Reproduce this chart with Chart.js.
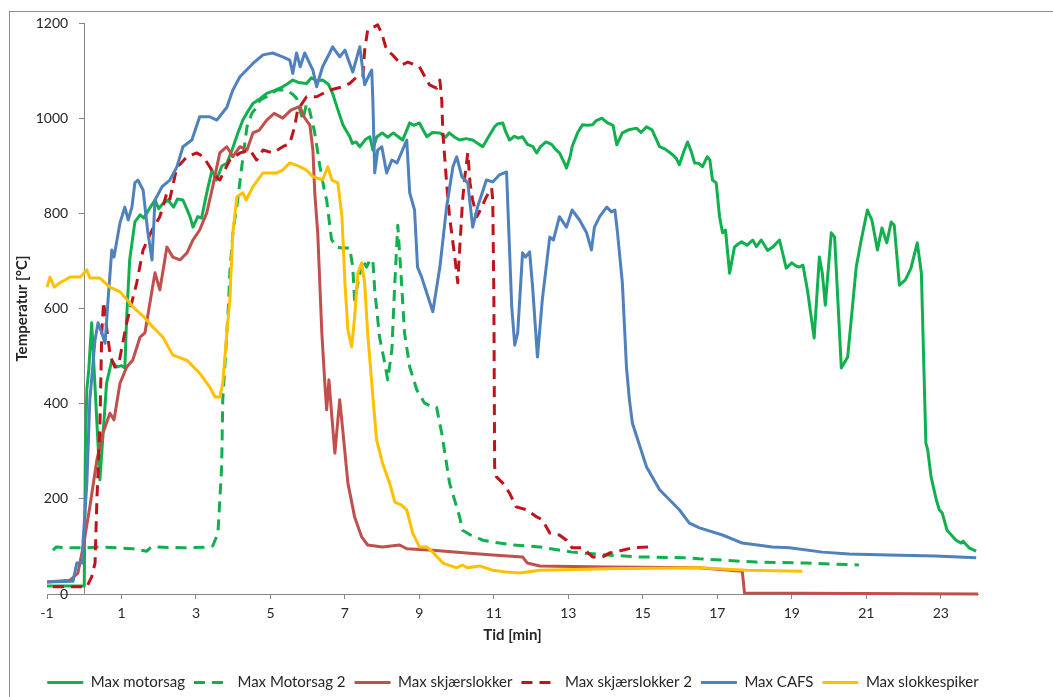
<!DOCTYPE html>
<html>
<head>
<meta charset="utf-8">
<script src="https://cdn.jsdelivr.net/npm/chart.js@4.4.1/dist/chart.umd.min.js"></script>
<style>
  html, body { margin: 0; padding: 0; background: #fff; overflow: hidden; }
  #wrap { position: relative; width: 1053px; height: 700px; }
  #frame { position: absolute; left: 9px; top: 11px; width: 1100px; height: 800px; border: 1px solid #8c8c8c; }
  canvas { position: absolute; left: 0; top: 0; }
</style>
</head>
<body>
<div id="wrap">
  <div id="frame"></div>
  <canvas id="chart" width="1053" height="700"></canvas>
</div>
<script>
// axis ticks
const xTicks = [-1, 1, 3, 5, 7, 9, 11, 13, 15, 17, 19, 21, 23];
const yTicks = [0, 200, 400, 600, 800, 1000, 1200];

// Max motorsag
const motorsagT = [-1, -0.05, 0.0, 0.03, 0.07, 0.12, 0.2, 0.3, 0.42, 0.5, 0.6, 0.74, 0.87, 1.0, 1.09, 1.14, 1.22, 1.36, 1.5, 1.6, 1.76, 1.9, 2.0, 2.11, 2.25, 2.4, 2.5, 2.65, 2.75, 2.84, 2.92, 3.05, 3.15, 3.29, 3.43, 3.55, 3.7, 3.83, 4.0, 4.13, 4.26, 4.4, 4.53, 4.7, 4.9, 5.1, 5.33, 5.45, 5.6, 5.75, 5.97, 6.1, 6.25, 6.4, 6.55, 6.67, 6.8, 6.95, 7.13, 7.2, 7.3, 7.4, 7.55, 7.67, 7.75, 7.85, 8.0, 8.15, 8.3, 8.45, 8.55, 8.74, 8.85, 9.0, 9.1, 9.2, 9.35, 9.55, 9.7, 9.8, 9.95, 10.08, 10.25, 10.43, 10.55, 10.7, 10.85, 11.02, 11.1, 11.24, 11.3, 11.42, 11.55, 11.65, 11.77, 11.9, 12.05, 12.15, 12.25, 12.4, 12.55, 12.65, 12.76, 12.9, 12.95, 13.05, 13.1, 13.25, 13.38, 13.5, 13.65, 13.75, 13.9, 14.05, 14.2, 14.3, 14.45, 14.6, 14.83, 14.95, 15.1, 15.25, 15.45, 15.6, 15.8, 15.9, 15.98, 16.1, 16.2, 16.3, 16.39, 16.5, 16.6, 16.73, 16.8, 16.87, 16.97, 17.06, 17.14, 17.22, 17.33, 17.46, 17.55, 17.65, 17.8, 17.95, 18.05, 18.18, 18.35, 18.5, 18.67, 18.85, 19.0, 19.1, 19.2, 19.3, 19.42, 19.6, 19.74, 19.82, 19.9, 20.06, 20.15, 20.33, 20.5, 20.73, 20.85, 21.03, 21.15, 21.3, 21.42, 21.55, 21.67, 21.75, 21.89, 22.05, 22.2, 22.37, 22.48, 22.6, 22.65, 22.74, 22.88, 22.96, 23.04, 23.17, 23.41, 23.55, 23.6, 23.76, 23.95];
const motorsagV = [17, 17, 17, 300, 430, 470, 570, 420, 240, 330, 443, 491, 477, 480, 475, 582, 702, 782, 797, 790, 811, 828, 810, 820, 828, 813, 830, 828, 810, 793, 771, 793, 790, 843, 891, 870, 900, 905, 940, 970, 996, 1015, 1031, 1040, 1052, 1058, 1066, 1072, 1080, 1075, 1073, 1085, 1078, 1080, 1072, 1052, 1020, 985, 961, 947, 950, 940, 955, 961, 933, 960, 969, 960, 969, 960, 954, 990, 985, 990, 975, 961, 970, 969, 960, 969, 960, 954, 957, 954, 948, 940, 960, 982, 988, 990, 975, 954, 962, 958, 961, 945, 940, 927, 940, 950, 945, 935, 927, 905, 895, 920, 940, 970, 986, 985, 986, 995, 1000, 990, 985, 944, 969, 975, 979, 970, 982, 975, 940, 935, 923, 915, 902, 930, 950, 930, 906, 905, 898, 919, 912, 870, 864, 793, 759, 765, 674, 729, 735, 740, 733, 744, 730, 744, 722, 730, 744, 685, 696, 690, 687, 691, 639, 538, 708, 674, 607, 759, 750, 475, 498, 687, 738, 807, 786, 723, 769, 738, 782, 775, 649, 660, 685, 738, 674, 317, 303, 246, 198, 177, 170, 134, 113, 107, 111, 97, 90];

// Max Motorsag 2
const motorsag2T = [-0.84, -0.75, -0.5, 0, 0.42, 0.88, 1.3, 1.68, 1.8, 2.65, 3.2, 3.45, 3.59, 3.69, 3.72, 3.83, 3.87, 3.91, 3.99, 4.12, 4.23, 4.37, 4.5, 4.63, 4.72, 4.9, 5.17, 5.44, 5.6, 5.7, 5.87, 5.97, 6.05, 6.19, 6.33, 6.46, 6.51, 6.64, 6.78, 6.92, 7.13, 7.21, 7.26, 7.35, 7.48, 7.58, 7.67, 7.75, 7.8, 7.93, 8.07, 8.15, 8.26, 8.34, 8.42, 8.52, 8.6, 8.74, 8.93, 9.14, 9.3, 9.46, 9.6, 9.81, 10.08, 10.16, 10.35, 10.7, 11.15, 11.5, 12.23, 13.1, 14.02, 14.9, 16.25, 16.5, 18.05, 19.4, 20.8];
const motorsag2V = [92, 99, 97, 97, 99, 97, 95, 90, 99, 97, 98, 101, 128, 267, 408, 549, 603, 675, 759, 828, 898, 982, 1010, 1023, 1038, 1045, 1059, 1059, 1050, 1042, 996, 1031, 1017, 969, 898, 843, 828, 745, 729, 727, 727, 687, 618, 654, 702, 687, 702, 702, 639, 540, 485, 450, 513, 654, 775, 654, 549, 477, 429, 401, 395, 393, 338, 233, 162, 134, 125, 113, 107, 103, 99, 88, 82, 78, 76, 74, 67, 65, 61];

// Max skjærslokker
const skjaerT = [-1, -0.38, -0.17, -0.03, 0.15, 0.34, 0.5, 0.69, 0.8, 0.96, 1.14, 1.3, 1.5, 1.63, 1.76, 1.9, 2.03, 2.22, 2.38, 2.57, 2.76, 2.92, 3.1, 3.29, 3.45, 3.64, 3.83, 3.99, 4.18, 4.37, 4.53, 4.7, 4.9, 5.1, 5.33, 5.55, 5.79, 5.9, 6.06, 6.14, 6.19, 6.27, 6.38, 6.46, 6.51, 6.57, 6.65, 6.73, 6.86, 6.95, 7.08, 7.26, 7.45, 7.61, 8.01, 8.47, 8.66, 9.36, 10.27, 10.97, 11.77, 11.9, 12.23, 14.03, 16.5, 17.67, 17.73, 24];
const skjaerV = [25, 29, 44, 99, 183, 282, 338, 380, 366, 443, 477, 491, 540, 549, 610, 675, 639, 729, 708, 702, 717, 744, 765, 801, 856, 927, 940, 919, 940, 933, 969, 975, 996, 1010, 1000, 1017, 1025, 1003, 985, 933, 843, 759, 549, 443, 387, 450, 372, 296, 408, 338, 233, 162, 120, 103, 99, 103, 95, 92, 86, 82, 78, 65, 59, 57, 55, 48, 2, 0];

// Max skjærslokker 2
const skjaer2T = [-0.84, 0.07, 0.2, 0.29, 0.34, 0.42, 0.47, 0.52, 0.6, 0.7, 0.82, 0.93, 1.14, 1.41, 1.58, 1.82, 2.03, 2.22, 2.3, 2.49, 2.6, 2.76, 3.02, 3.2, 3.37, 3.5, 3.64, 3.8, 3.91, 4.18, 4.45, 4.63, 4.8, 5.06, 5.33, 5.52, 5.65, 5.73, 5.97, 6.24, 6.59, 6.94, 7.13, 7.32, 7.48, 7.53, 7.61, 7.88, 7.99, 8.12, 8.28, 8.52, 8.69, 9.0, 9.27, 9.46, 9.55, 9.6, 9.63, 9.73, 9.81, 9.95, 10.03, 10.08, 10.16, 10.22, 10.3, 10.36, 10.43, 10.54, 10.6, 10.8, 10.94, 10.97, 11.0, 11.02, 11.07, 11.24, 11.42, 11.6, 11.88, 12.15, 12.3, 12.5, 12.76, 12.95, 13.1, 13.38, 13.65, 13.92, 14.1, 14.45, 14.72, 15.23];
const skjaer2V = [15, 15, 36, 65, 198, 351, 549, 614, 560, 500, 477, 485, 570, 654, 723, 765, 793, 843, 830, 898, 905, 919, 927, 919, 898, 880, 870, 895, 912, 927, 933, 912, 933, 927, 940, 947, 982, 1017, 1045, 1045, 1059, 1066, 1073, 1087, 1087, 1143, 1185, 1196, 1178, 1143, 1133, 1112, 1118, 1108, 1070, 1063, 1080, 1038, 969, 864, 793, 708, 654, 723, 828, 877, 927, 864, 828, 793, 801, 835, 853, 828, 618, 267, 246, 233, 212, 183, 177, 162, 156, 128, 124, 113, 97, 97, 78, 78, 86, 92, 97, 99];

// Max CAFS
const cafsT = [-1, -0.3, -0.2, -0.06, -0.03, 0.07, 0.15, 0.29, 0.37, 0.47, 0.56, 0.64, 0.74, 0.8, 0.96, 1.09, 1.18, 1.28, 1.36, 1.44, 1.58, 1.71, 1.82, 1.9, 2.09, 2.3, 2.49, 2.65, 2.89, 3.1, 3.37, 3.56, 3.83, 3.99, 4.18, 4.53, 4.8, 5.06, 5.33, 5.52, 5.6, 5.7, 5.8, 5.92, 6.14, 6.24, 6.4, 6.59, 6.67, 6.86, 7.0, 7.21, 7.4, 7.53, 7.67, 7.72, 7.75, 7.8, 7.88, 7.99, 8.12, 8.26, 8.4, 8.66, 8.74, 8.87, 8.95, 9.06, 9.2, 9.36, 9.55, 9.73, 9.9, 10.0, 10.14, 10.3, 10.43, 10.56, 10.8, 10.97, 11.15, 11.34, 11.48, 11.56, 11.64, 11.77, 11.85, 11.96, 12.04, 12.17, 12.3, 12.5, 12.6, 12.76, 12.95, 13.1, 13.3, 13.49, 13.62, 13.7, 13.84, 14.03, 14.16, 14.25, 14.32, 14.45, 14.56, 14.64, 14.72, 15.1, 15.45, 15.98, 16.25, 16.52, 17.14, 17.67, 18.48, 18.94, 19.82, 20.54, 21.6, 22.85, 23.95];
const cafsV = [25, 27, 65, 65, 113, 233, 408, 534, 570, 549, 527, 618, 723, 708, 780, 813, 786, 813, 864, 870, 849, 759, 702, 828, 856, 870, 898, 940, 954, 1003, 1003, 996, 1023, 1059, 1087, 1115, 1133, 1137, 1129, 1122, 1094, 1137, 1108, 1137, 1101, 1066, 1108, 1137, 1150, 1129, 1143, 1097, 1150, 1070, 1094, 1101, 1038, 885, 933, 940, 885, 912, 906, 954, 843, 807, 687, 666, 632, 593, 687, 813, 898, 919, 877, 864, 771, 813, 870, 866, 881, 887, 603, 523, 549, 717, 708, 719, 645, 498, 618, 750, 744, 793, 771, 807, 786, 759, 723, 771, 793, 813, 803, 807, 759, 654, 477, 408, 359, 267, 219, 177, 149, 139, 124, 107, 99, 97, 88, 84, 82, 80, 76];

// Max slokkespiker
const spikerT = [-1, -0.92, -0.8, -0.65, -0.38, -0.11, 0.07, 0.15, 0.42, 0.69, 0.96, 1.22, 1.31, 1.58, 1.84, 2.11, 2.38, 2.76, 3.1, 3.37, 3.51, 3.64, 3.72, 3.83, 3.91, 3.99, 4.1, 4.26, 4.35, 4.53, 4.8, 5.17, 5.33, 5.52, 5.79, 5.97, 6.14, 6.4, 6.54, 6.65, 6.81, 6.92, 7.0, 7.08, 7.18, 7.26, 7.35, 7.45, 7.53, 7.61, 7.72, 7.85, 8.01, 8.2, 8.34, 8.52, 8.66, 8.82, 9.0, 9.2, 9.36, 9.63, 10.0, 10.15, 10.3, 10.62, 10.97, 11.34, 11.69, 12.23, 14.03, 16.52, 17.78, 19.28];
const spikerV = [645, 666, 645, 654, 666, 666, 681, 664, 664, 645, 635, 612, 603, 584, 561, 540, 502, 491, 464, 435, 414, 414, 443, 549, 618, 759, 835, 843, 828, 856, 885, 885, 891, 906, 898, 891, 877, 870, 898, 870, 864, 793, 654, 555, 519, 582, 675, 696, 654, 549, 443, 324, 275, 233, 193, 187, 177, 128, 99, 99, 88, 65, 55, 61, 55, 59, 50, 46, 44, 50, 53, 55, 50, 48];

const series = [
  { label: 'Max motorsag', t: motorsagT, v: motorsagV, color: '#11B04E', dash: [] },
  { label: 'Max Motorsag 2', t: motorsag2T, v: motorsag2V, color: '#11B04E', dash: [11, 7] },
  { label: 'Max skjærslokker', t: skjaerT, v: skjaerV, color: '#C0504D', dash: [] },
  { label: 'Max skjærslokker 2', t: skjaer2T, v: skjaer2V, color: '#C0141C', dash: [11, 7] },
  { label: 'Max CAFS', t: cafsT, v: cafsV, color: '#4F81BD', dash: [] },
  { label: 'Max slokkespiker', t: spikerT, v: spikerV, color: '#FFC000', dash: [] }
];

const fontFamily = 'Lato, "Open Sans", sans-serif';
const textColor = '#262626';
const axisColor = '#868686';

const datasets = series.map(function (s, i) {
  return {
    label: s.label,
    data: s.t.map(function (x, k) { return { x: x, y: s.v[k] }; }),
    borderColor: s.color,
    backgroundColor: s.color,
    borderWidth: 3,
    borderDash: s.dash,
    borderJoinStyle: 'round',
    pointRadius: 0,
    pointHoverRadius: 0,
    pointStyle: 'line',
    tension: 0,
    fill: false,
    clip: false,
    xAxisID: 'x',
    yAxisID: 'y',
    order: series.length - i // later series drawn on top, like the original
  };
});

const yTickList = function (axis) { axis.ticks = yTicks.map(function (v) { return { value: v }; }); };

// legend samples: keep the dash of each series (point style alone drops it)
function legendLabels(chart) {
  const items = Chart.defaults.plugins.legend.labels.generateLabels(chart);
  items.forEach(function (item) {
    const ds = chart.data.datasets[item.datasetIndex];
    item.lineDash = ds.borderDash;
    item.lineWidth = 3;
    item.strokeStyle = ds.borderColor;
    item.pointStyle = 'line';
  });
  return items;
}

new Chart(document.getElementById('chart'), {
  type: 'line',
  data: { datasets: datasets },
  options: {
    responsive: false,
    animation: false,
    events: [],
    layout: { padding: { left: 0, right: 27, top: 23, bottom: 0 } },
    plugins: {
      legend: {
        position: 'bottom',
        labels: {
          usePointStyle: true,
          pointStyleWidth: 36,
          padding: 9,
          color: textColor,
          font: { family: fontFamily, size: 15 },
          generateLabels: legendLabels,
          sort: function (a, b) { return a.datasetIndex - b.datasetIndex; }
        }
      },
      tooltip: { enabled: false }
    },
    scales: {
      x: {
        type: 'linear',
        min: -1,
        max: 24,
        afterBuildTicks: function (axis) { axis.ticks = xTicks.map(function (v) { return { value: v }; }); },
        afterFit: function (axis) { axis.height = 72; },
        grid: { display: true, drawOnChartArea: false, drawTicks: true, tickLength: 5, color: axisColor },
        border: { display: true, color: axisColor, width: 1 },
        ticks: { padding: 6, maxRotation: 0, color: textColor, font: { family: fontFamily, size: 14 } },
        title: { display: true, text: 'Tid [min]', color: textColor, font: { family: fontFamily, size: 15, weight: 'bold' }, padding: { top: 0, bottom: 22 } }
      },
      // value axis crossing at time 0: line and tick marks only
      y: {
        type: 'linear',
        position: { x: 0 },
        min: 0,
        max: 1200,
        afterBuildTicks: yTickList,
        afterFit: function (axis) { axis.width = 0; },
        grid: { display: true, drawOnChartArea: false, drawTicks: true, tickLength: 5, color: axisColor },
        border: { display: true, color: axisColor, width: 1 },
        ticks: { display: false }
      },
      // tick labels of the value axis, set a little left of the axis line
      yl: {
        type: 'linear',
        position: { x: -0.43 },
        min: 0,
        max: 1200,
        afterBuildTicks: yTickList,
        afterFit: function (axis) { axis.width = 0; },
        grid: { display: false },
        border: { display: false },
        ticks: { color: textColor, font: { family: fontFamily, size: 14 }, callback: function (v) { return String(v); } }
      },
      yt: {
        type: 'linear',
        position: 'left',
        min: 0,
        max: 1200,
        afterFit: function (axis) { axis.width = 47; },
        grid: { display: false },
        border: { display: false },
        ticks: { display: false },
        title: { display: true, text: 'Temperatur [°C]', color: textColor, font: { family: fontFamily, size: 15, weight: 'bold' }, padding: { top: 13, bottom: 0 } }
      },
      // empty space on the right of the plot, kept so the legend stays centred on the page
      yr: {
        type: 'linear',
        position: 'right',
        min: 0,
        max: 1200,
        afterFit: function (axis) { axis.width = 48; },
        grid: { display: false },
        border: { display: false },
        ticks: { display: false }
      }
    }
  }
});
</script>
</body>
</html>
